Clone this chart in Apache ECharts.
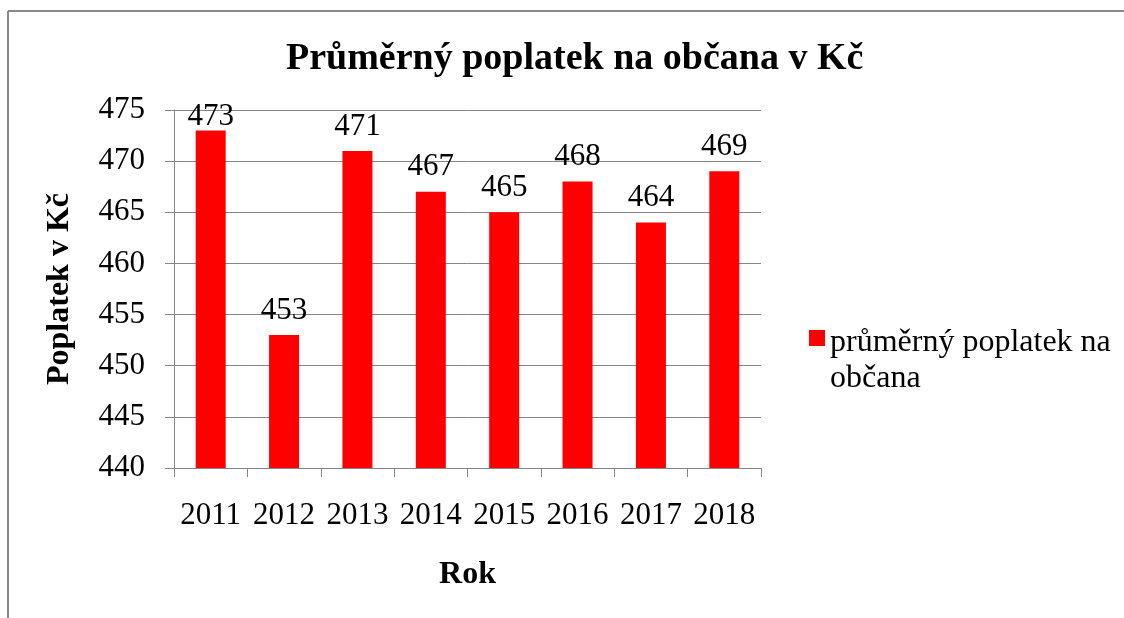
<!DOCTYPE html>
<html>
<head>
<meta charset="utf-8">
<script src="https://cdn.jsdelivr.net/npm/echarts@6/dist/echarts.min.js"></script>
<style>
  html, body { margin: 0; padding: 0; background: #fff; }
  #main { width: 1124px; height: 618px; }
</style>
</head>
<body>
<div id="main"></div>
<script>
  var years = ['2011', '2012', '2013', '2014', '2015', '2016', '2017', '2018'];
  var fees = [473, 453, 471, 467, 465, 468, 464, 469];
  var seriesName = 'průměrný poplatek na občana';

  var serif = '"Liberation Serif", "Times New Roman", serif';
  var gray = '#868686';
  var labelTopLimit = 101; // excel keeps the labels inside the chart

  var myChart = echarts.init(document.getElementById('main'));
  var option = {
    backgroundColor: '#ffffff',
    animation: false,
    title: {
      text: 'Průměrný poplatek na občana v Kč',
      left: 281,
      top: 35,
      textStyle: { fontFamily: serif, fontSize: 38, fontWeight: 'bold', color: '#000' }
    },
    legend: {
      data: [seriesName],
      left: 804,
      top: 320,
      // square sits on the first text line
      icon: 'path://M0,0h16v16h-16z M0,62h0.01v0.01h-0.01z',
      itemWidth: 16,
      itemHeight: 62,
      formatter: function () { return 'průměrný poplatek na\nobčana'; },
      textStyle: { fontFamily: serif, fontSize: 32, color: '#000', lineHeight: 36 }
    },
    grid: { left: 174, top: 110, width: 587, height: 358 },
    xAxis: {
      type: 'category',
      data: years,
      name: 'Rok',
      nameLocation: 'middle',
      nameGap: 91,
      nameTextStyle: { fontFamily: serif, fontSize: 32, fontWeight: 'bold', color: '#000' },
      axisLine: { lineStyle: { color: gray, width: 1 } },
      axisTick: { show: true, length: 9, interval: 0, lineStyle: { color: gray } },
      axisLabel: { fontFamily: serif, fontSize: 31, color: '#000', margin: 32, interval: 0, hideOverlap: false }
    },
    yAxis: {
      type: 'value',
      min: 440,
      max: 475,
      interval: 5,
      name: 'Poplatek v Kč',
      nameLocation: 'middle',
      nameGap: 98,
      nameTextStyle: { fontFamily: serif, fontSize: 32, fontWeight: 'bold', color: '#000' },
      axisLine: { show: true, lineStyle: { color: gray, width: 1 } },
      axisTick: { show: true, length: 9, lineStyle: { color: gray } },
      splitLine: { lineStyle: { color: gray, width: 1 } },
      axisLabel: { fontFamily: serif, fontSize: 31, color: '#000', margin: 29 }
    },
    series: [{
      name: seriesName,
      type: 'bar',
      data: fees,
      barWidth: 30,
      itemStyle: { color: '#ff0000' },
      label: {
        show: true,
        position: 'top',
        distance: 9,
        fontFamily: serif,
        fontSize: 31,
        color: '#000'
      },
      labelLayout: function (p) {
        if (p.labelRect.y < labelTopLimit) {
          return { dy: labelTopLimit - p.labelRect.y };
        }
        return {};
      }
    }],
    graphic: [
      { type: 'line', shape: { x1: 8, y1: 11, x2: 1124, y2: 11 }, style: { stroke: '#888', lineWidth: 2 } },
      { type: 'line', shape: { x1: 8, y1: 11, x2: 8, y2: 618 }, style: { stroke: '#888', lineWidth: 2 } }
    ]
  };
  myChart.setOption(option);
</script>
</body>
</html>
